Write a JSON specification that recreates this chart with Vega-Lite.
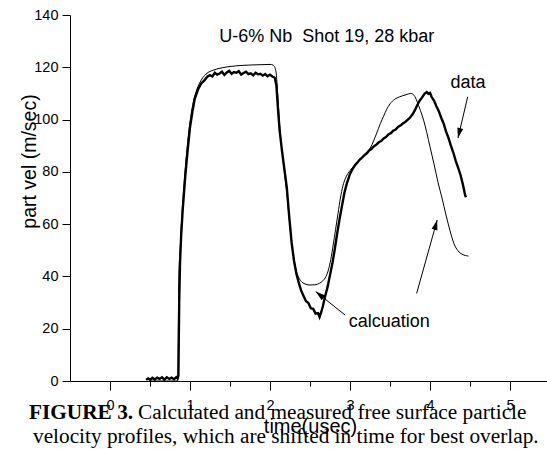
{
  "$schema": "https://vega.github.io/schema/vega-lite/v6.json",
  "width": 480,
  "height": 366,
  "autosize": {"type": "none"},
  "padding": {"left": 70, "top": 15, "right": 0, "bottom": 68},
  "background": "white",
  "config": {"view": {"stroke": null}},
  "datasets": {
    "calc": [
      {"t": 0.5, "v": 0}, {"t": 0.84, "v": 0}, {"t": 0.85, "v": 2}, {"t": 0.86, "v": 38},
      {"t": 0.88, "v": 52}, {"t": 0.9, "v": 64}, {"t": 0.93, "v": 77}, {"t": 0.96, "v": 88},
      {"t": 1.0, "v": 99}, {"t": 1.04, "v": 106.5}, {"t": 1.08, "v": 111}, {"t": 1.12, "v": 114},
      {"t": 1.16, "v": 116}, {"t": 1.2, "v": 117.4}, {"t": 1.3, "v": 119}, {"t": 1.4, "v": 119.8},
      {"t": 1.5, "v": 120.3}, {"t": 1.7, "v": 120.8}, {"t": 1.9, "v": 121}, {"t": 2.0, "v": 121.1},
      {"t": 2.04, "v": 120.8}, {"t": 2.06, "v": 120}, {"t": 2.08, "v": 117}, {"t": 2.1, "v": 108},
      {"t": 2.12, "v": 98}, {"t": 2.15, "v": 88}, {"t": 2.18, "v": 80}, {"t": 2.21, "v": 72},
      {"t": 2.24, "v": 62}, {"t": 2.27, "v": 53}, {"t": 2.3, "v": 46.5}, {"t": 2.33, "v": 42},
      {"t": 2.36, "v": 39.5}, {"t": 2.4, "v": 37.8}, {"t": 2.45, "v": 37}, {"t": 2.5, "v": 36.7},
      {"t": 2.56, "v": 36.8}, {"t": 2.62, "v": 37.4}, {"t": 2.66, "v": 38.3}, {"t": 2.7, "v": 40},
      {"t": 2.73, "v": 42.5}, {"t": 2.76, "v": 46.5}, {"t": 2.79, "v": 52}, {"t": 2.82, "v": 58},
      {"t": 2.85, "v": 64}, {"t": 2.88, "v": 70}, {"t": 2.91, "v": 74.5}, {"t": 2.95, "v": 78},
      {"t": 3.0, "v": 80.5}, {"t": 3.05, "v": 82.3}, {"t": 3.12, "v": 84.5}, {"t": 3.2, "v": 87},
      {"t": 3.26, "v": 89.5}, {"t": 3.33, "v": 94.5}, {"t": 3.38, "v": 98.5}, {"t": 3.42, "v": 101.3},
      {"t": 3.46, "v": 104}, {"t": 3.5, "v": 106}, {"t": 3.56, "v": 107.8}, {"t": 3.62, "v": 108.7},
      {"t": 3.7, "v": 109.5}, {"t": 3.76, "v": 110}, {"t": 3.8, "v": 109.3}, {"t": 3.84, "v": 106.8},
      {"t": 3.88, "v": 103.5}, {"t": 3.92, "v": 99.8}, {"t": 3.96, "v": 95}, {"t": 4.0, "v": 89.6},
      {"t": 4.05, "v": 83}, {"t": 4.1, "v": 76}, {"t": 4.15, "v": 70}, {"t": 4.2, "v": 63.5},
      {"t": 4.25, "v": 57.5}, {"t": 4.3, "v": 52.5}, {"t": 4.35, "v": 49.8}, {"t": 4.4, "v": 48.5},
      {"t": 4.48, "v": 47.8}
    ],
    "meas": [
      {"t": 0.45, "v": 0.5}, {"t": 0.48, "v": 1.0}, {"t": 0.5, "v": 0.4}, {"t": 0.53, "v": 1.2},
      {"t": 0.56, "v": 0.6}, {"t": 0.59, "v": 1.3}, {"t": 0.62, "v": 0.8}, {"t": 0.65, "v": 1.4},
      {"t": 0.68, "v": 0.5}, {"t": 0.71, "v": 1.4}, {"t": 0.74, "v": 0.8}, {"t": 0.77, "v": 1.3},
      {"t": 0.8, "v": 0.7}, {"t": 0.83, "v": 1.5}, {"t": 0.845, "v": 1.0}, {"t": 0.855, "v": 2},
      {"t": 0.865, "v": 30}, {"t": 0.875, "v": 45}, {"t": 0.89, "v": 56}, {"t": 0.91, "v": 66},
      {"t": 0.94, "v": 78}, {"t": 0.97, "v": 88}, {"t": 1.0, "v": 97}, {"t": 1.03, "v": 103},
      {"t": 1.06, "v": 108}, {"t": 1.1, "v": 111.5}, {"t": 1.14, "v": 113.8}, {"t": 1.18, "v": 115},
      {"t": 1.22, "v": 116.5}, {"t": 1.25, "v": 117.0}, {"t": 1.28, "v": 116.5}, {"t": 1.31, "v": 117.9},
      {"t": 1.34, "v": 117.2}, {"t": 1.37, "v": 117.6}, {"t": 1.4, "v": 118.3}, {"t": 1.43, "v": 117.1},
      {"t": 1.46, "v": 118.0}, {"t": 1.49, "v": 118.6}, {"t": 1.52, "v": 117.5}, {"t": 1.55, "v": 118.2},
      {"t": 1.58, "v": 117.9}, {"t": 1.61, "v": 118.5}, {"t": 1.64, "v": 117.2}, {"t": 1.67, "v": 117.8},
      {"t": 1.7, "v": 118.3}, {"t": 1.73, "v": 117.4}, {"t": 1.76, "v": 117.7}, {"t": 1.79, "v": 116.9},
      {"t": 1.82, "v": 117.9}, {"t": 1.85, "v": 117.3}, {"t": 1.88, "v": 117.5}, {"t": 1.91, "v": 116.8},
      {"t": 1.94, "v": 117.4}, {"t": 1.97, "v": 116.6}, {"t": 2.0, "v": 117.2}, {"t": 2.03, "v": 116.5},
      {"t": 2.06, "v": 116.0}, {"t": 2.08, "v": 113}, {"t": 2.1, "v": 104}, {"t": 2.12, "v": 96},
      {"t": 2.15, "v": 88}, {"t": 2.18, "v": 81}, {"t": 2.21, "v": 74}, {"t": 2.24, "v": 63},
      {"t": 2.27, "v": 53}, {"t": 2.3, "v": 46}, {"t": 2.33, "v": 41}, {"t": 2.36, "v": 37.5},
      {"t": 2.39, "v": 34.5}, {"t": 2.42, "v": 32.5}, {"t": 2.45, "v": 30.5}, {"t": 2.48, "v": 29.8},
      {"t": 2.51, "v": 27.8}, {"t": 2.54, "v": 27.6}, {"t": 2.57, "v": 25.8}, {"t": 2.6, "v": 26.0},
      {"t": 2.62, "v": 24.5}, {"t": 2.64, "v": 26.3}, {"t": 2.66, "v": 28.5}, {"t": 2.69, "v": 32.5},
      {"t": 2.72, "v": 36}, {"t": 2.75, "v": 40.5}, {"t": 2.78, "v": 45}, {"t": 2.81, "v": 50.5},
      {"t": 2.84, "v": 56.5}, {"t": 2.87, "v": 62}, {"t": 2.9, "v": 67}, {"t": 2.93, "v": 72},
      {"t": 2.96, "v": 75.5}, {"t": 3.0, "v": 79.2}, {"t": 3.03, "v": 81}, {"t": 3.06, "v": 82.4},
      {"t": 3.09, "v": 83.5}, {"t": 3.12, "v": 84.6}, {"t": 3.15, "v": 85.4}, {"t": 3.18, "v": 86.4},
      {"t": 3.21, "v": 87.1}, {"t": 3.24, "v": 88.2}, {"t": 3.27, "v": 88.8}, {"t": 3.3, "v": 89.8},
      {"t": 3.33, "v": 90.4}, {"t": 3.36, "v": 91.3}, {"t": 3.39, "v": 91.8}, {"t": 3.42, "v": 92.8},
      {"t": 3.45, "v": 93.3}, {"t": 3.48, "v": 94.3}, {"t": 3.51, "v": 94.8}, {"t": 3.54, "v": 95.7},
      {"t": 3.57, "v": 96.2}, {"t": 3.6, "v": 97.2}, {"t": 3.63, "v": 97.7}, {"t": 3.66, "v": 98.5},
      {"t": 3.69, "v": 99.1}, {"t": 3.72, "v": 99.9}, {"t": 3.75, "v": 100.7}, {"t": 3.78, "v": 101.9},
      {"t": 3.81, "v": 103.5}, {"t": 3.84, "v": 105.5}, {"t": 3.87, "v": 107.2}, {"t": 3.9, "v": 108.4},
      {"t": 3.93, "v": 109.8}, {"t": 3.96, "v": 110.5}, {"t": 3.98, "v": 109.9}, {"t": 4.0, "v": 110.2},
      {"t": 4.02, "v": 108.7}, {"t": 4.05, "v": 107.3}, {"t": 4.08, "v": 105.1}, {"t": 4.11, "v": 103.2},
      {"t": 4.14, "v": 100.7}, {"t": 4.17, "v": 98.5}, {"t": 4.2, "v": 95.5}, {"t": 4.23, "v": 93.1},
      {"t": 4.26, "v": 90.1}, {"t": 4.29, "v": 87.5}, {"t": 4.32, "v": 84.4}, {"t": 4.35, "v": 81.7},
      {"t": 4.38, "v": 79.0}, {"t": 4.41, "v": 75.3}, {"t": 4.44, "v": 71.0}, {"t": 4.45, "v": 70.3}
    ],
    "notes": [
      {"t": 2.71, "v": 129.7, "text": "U-6% Nb\u00a0 Shot 19, 28 kbar"},
      {"t": 4.475, "v": 112.1, "text": "data"},
      {"t": 3.49, "v": 20.66, "text": "calcuation"}
    ],
    "arrows": [
      {"name": "data", "t": 4.471, "v": 108.7, "t2": 4.35, "v2": 92.95},
      {"name": "calc", "t": 2.94, "v": 25.2, "t2": 2.571, "v2": 34.2},
      {"name": "calc2", "t": 3.833, "v": 33.5, "t2": 4.09, "v2": 61.6}
    ],
    "caption": [
      {"t": 0.35, "v": -14.5, "text": "Calculated and measured free surface particle"},
      {"t": -0.9625, "v": -23.9, "text": "velocity profiles, which are shifted in time for best overlap."}
    ],
    "captionBold": [
      {"t": -1.0125, "v": -14.5, "text": "FIGURE 3."}
    ]
  },
  "layer": [
    {
      "data": {"name": "calc"},
      "mark": {"type": "line", "color": "black", "strokeWidth": 1, "interpolate": "monotone"},
      "encoding": {
        "x": {
          "field": "t", "type": "quantitative",
          "scale": {"domain": [-0.5, 5.5], "nice": false, "zero": false},
          "axis": {
            "title": "time(usec)",
            "values": [0, 0.5, 1, 1.5, 2, 2.5, 3, 3.5, 4, 4.5, 5],
            "labelExpr": "datum.value % 1 === 0 ? format(datum.value, 'd') : ''",
            "grid": false,
            "domainColor": "black", "domainWidth": 1,
            "tickColor": "black", "tickWidth": 1,
            "tickSize": {"condition": {"test": "datum.value % 1 !== 0", "value": 5}, "value": 9},
            "labelFont": "Liberation Sans", "labelFontSize": 14.5, "labelColor": "black",
            "labelPadding": 8, "labelFlush": false, "labelOverlap": false,
            "titleFont": "Liberation Sans", "titleFontSize": 20, "titleFontWeight": "normal", "titleColor": "black",
            "titleX": 240, "titleY": 51, "titleBaseline": "alphabetic", "titleAlign": "center"
          }
        },
        "y": {
          "field": "v", "type": "quantitative",
          "scale": {"domain": [0, 140], "nice": false},
          "axis": {
            "title": "part vel (m/sec)",
            "values": [0, 10, 20, 30, 40, 50, 60, 70, 80, 90, 100, 110, 120, 130, 140],
            "labelExpr": "datum.value % 20 === 0 ? datum.label : ''",
            "grid": false,
            "domainColor": "black", "domainWidth": 1,
            "tickColor": "black", "tickWidth": 1,
            "tickSize": {"condition": {"test": "datum.value % 20 !== 0", "value": 4}, "value": 8},
            "labelFont": "Liberation Sans", "labelFontSize": 14.5, "labelColor": "black",
            "labelPadding": 4, "labelFlush": false, "labelOverlap": false,
            "titleFont": "Liberation Sans", "titleFontSize": 19.5, "titleFontWeight": "normal", "titleColor": "black",
            "titleAngle": -90, "titleX": -41, "titleY": 146, "titleBaseline": "middle", "titleAlign": "center"
          }
        }
      }
    },
    {
      "data": {"name": "meas"},
      "mark": {"type": "line", "color": "black", "strokeWidth": 2.4},
      "encoding": {
        "x": {"field": "t", "type": "quantitative"},
        "y": {"field": "v", "type": "quantitative"}
      }
    },
    {
      "data": {"name": "arrows"},
      "mark": {"type": "rule", "color": "black", "strokeWidth": 1},
      "encoding": {
        "x": {"field": "t", "type": "quantitative"},
        "y": {"field": "v", "type": "quantitative"},
        "x2": {"field": "t2"},
        "y2": {"field": "v2"}
      }
    },
    {
      "data": {"name": "arrows"},
      "transform": [{"filter": "datum.name === 'data'"}],
      "mark": {"type": "point", "shape": "M0,0L-0.3,1L0.3,1Z", "filled": true, "color": "black", "opacity": 1, "size": 400, "angle": 193},
      "encoding": {
        "x": {"field": "t2", "type": "quantitative"},
        "y": {"field": "v2", "type": "quantitative"}
      }
    },
    {
      "data": {"name": "arrows"},
      "transform": [{"filter": "datum.name === 'calc'"}],
      "mark": {"type": "point", "shape": "M0,0L-0.3,1L0.3,1Z", "filled": true, "color": "black", "opacity": 1, "size": 400, "angle": 308.5},
      "encoding": {
        "x": {"field": "t2", "type": "quantitative"},
        "y": {"field": "v2", "type": "quantitative"}
      }
    },
    {
      "data": {"name": "arrows"},
      "transform": [{"filter": "datum.name === 'calc2'"}],
      "mark": {"type": "point", "shape": "M0,0L-0.3,1L0.3,1Z", "filled": true, "color": "black", "opacity": 1, "size": 400, "angle": 15.7},
      "encoding": {
        "x": {"field": "t2", "type": "quantitative"},
        "y": {"field": "v2", "type": "quantitative"}
      }
    },
    {
      "data": {"name": "notes"},
      "mark": {"type": "text", "font": "Liberation Sans", "fontSize": 18, "color": "black", "align": "center", "baseline": "alphabetic"},
      "encoding": {
        "x": {"field": "t", "type": "quantitative"},
        "y": {"field": "v", "type": "quantitative"},
        "text": {"field": "text"}
      }
    },
    {
      "data": {"name": "caption"},
      "mark": {"type": "text", "font": "Liberation Serif", "fontSize": 21.3, "color": "black", "align": "left", "baseline": "alphabetic"},
      "encoding": {
        "x": {"field": "t", "type": "quantitative"},
        "y": {"field": "v", "type": "quantitative"},
        "text": {"field": "text"}
      }
    },
    {
      "data": {"name": "captionBold"},
      "mark": {"type": "text", "font": "Liberation Serif", "fontSize": 21.3, "fontWeight": "bold", "color": "black", "align": "left", "baseline": "alphabetic"},
      "encoding": {
        "x": {"field": "t", "type": "quantitative"},
        "y": {"field": "v", "type": "quantitative"},
        "text": {"field": "text"}
      }
    }
  ]
}
